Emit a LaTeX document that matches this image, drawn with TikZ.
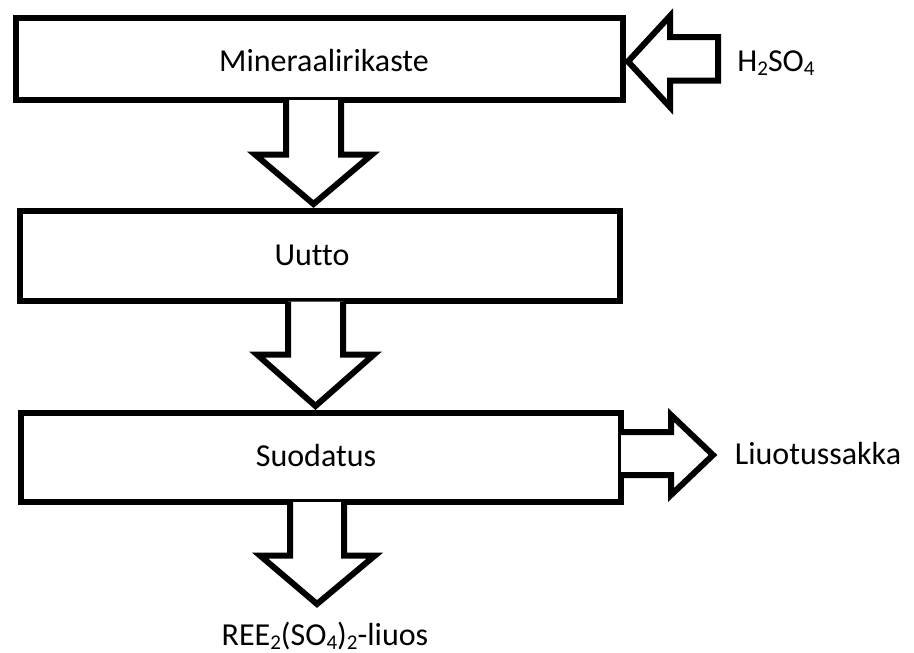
\documentclass[tikz,border=0pt]{standalone}
\usepackage{fontspec}
\setmainfont{Carlito}[Ligatures=NoCommon]
\newcommand{\subd}[1]{\raisebox{-0.12em}{\fontsize{21}{21}\selectfont #1}}
\begin{document}
\begin{tikzpicture}[x=1pt,y=-1pt,
  every node/.style={font=\fontsize{32}{38}\selectfont, text=black},
  procbox/.style={draw, line width=6pt, inner sep=0pt},
  blockarrow/.style={draw, line width=6pt, line join=miter, miter limit=10, fill=white},
  lbl/.style={inner sep=0pt}]
\useasboundingbox (0,0) rectangle (914,653);
% process boxes
\node[procbox, minimum width=607.5pt, minimum height=82pt] (b1) at (319.25,59) {};
\node[procbox, minimum width=600pt, minimum height=90.5pt] (b2) at (320,256) {};
\node[procbox, minimum width=600pt, minimum height=89pt] (b3) at (321,457.5) {};
\node[lbl] (t1) at (324,61) {Mineraalirikaste};
\node[lbl] (t2) at (312,255) {Uutto};
\node[lbl] (t3) at (316,456) {Suodatus};
% labels
\node[lbl] (h2so4) at (776,63) {H\subd{2}SO\subd{4}};
\node[lbl] (liuotus) at (818,454) {Liuotussakka};
\node[lbl] (ree) at (325,636) {REE\subd{2}(SO\subd{4})\subd{2}-liuos};
% block arrows
\coordinate (a1tip) at (313.5,204);
\draw[blockarrow] (286,100) -- (286,154.5) -- (255,154.5) -- (a1tip) -- (372,154.5) -- (341,154.5) -- (341,100);
\coordinate (a2tip) at (315.5,406);
\draw[blockarrow] (288,301.5) -- (288,354.5) -- (257,354.5) -- (a2tip) -- (374,354.5) -- (343,354.5) -- (343,301.5);
\coordinate (a4tip) at (317,604);
\draw[blockarrow] (290,502) -- (290,555.5) -- (260,555.5) -- (a4tip) -- (375,555.5) -- (344,555.5) -- (344,502);
\coordinate (a3tip) at (713,455);
\draw[blockarrow] (621,432) -- (671,432) -- (671,415) -- (a3tip) -- (671,495) -- (671,475) -- (621,475);
\coordinate (a0tip) at (628,61.5);
\draw[blockarrow] (670,37) -- (670,16) -- (a0tip) -- (670,107) -- (670,80.5) -- (718,80.5) -- (718,37) -- cycle;
\end{tikzpicture}
\end{document}
